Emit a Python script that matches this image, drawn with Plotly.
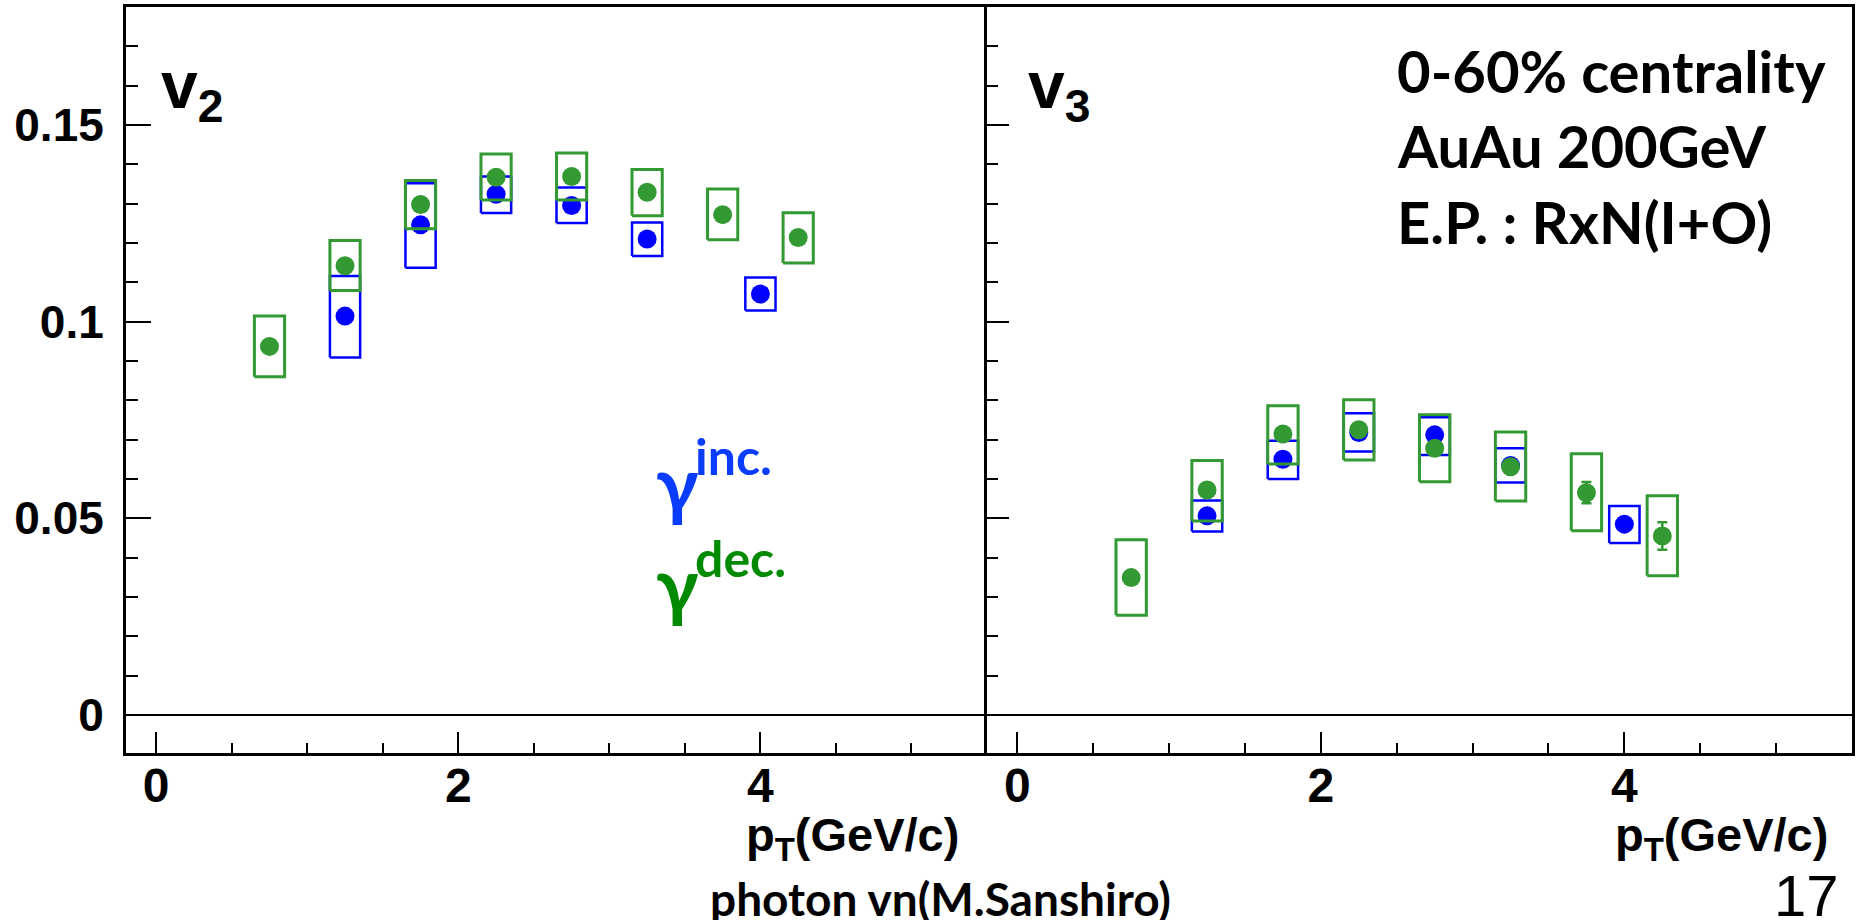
import plotly.graph_objects as go

# ---------------- data ----------------
pt_inc = [1.25, 1.75, 2.25, 2.75, 3.25, 4.0]
pt_dec = [0.75, 1.25, 1.75, 2.25, 2.75, 3.25, 3.75, 4.25]

v2_inc = [0.1014, 0.1246, 0.1324, 0.1295, 0.1210, 0.1070]
v2_inc_sys_lo = [0.0909, 0.1137, 0.1276, 0.1251, 0.1167, 0.1028]
v2_inc_sys_hi = [0.1116, 0.1352, 0.1369, 0.1341, 0.1252, 0.1112]

v2_dec = [0.0937, 0.1142, 0.1298, 0.1367, 0.1369, 0.1329, 0.1272, 0.1214]
v2_dec_sys_lo = [0.0860, 0.1079, 0.1236, 0.1309, 0.1309, 0.1269, 0.1208, 0.1149]
v2_dec_sys_hi = [0.1014, 0.1206, 0.1359, 0.1426, 0.1429, 0.1387, 0.1337, 0.1277]

v3_inc = [0.0506, 0.0650, 0.0718, 0.0712, 0.0634, 0.0485]
v3_inc_sys_lo = [0.0466, 0.0600, 0.0670, 0.0661, 0.0591, 0.0437]
v3_inc_sys_hi = [0.0545, 0.0697, 0.0767, 0.0757, 0.0678, 0.0531]

v3_dec = [0.0349, 0.0572, 0.0714, 0.0725, 0.0678, 0.0631, 0.0565, 0.0455]
v3_dec_stat = [0, 0, 0, 0, 0, 0, 0.0027, 0.0035]
v3_dec_sys_lo = [0.0253, 0.0493, 0.0638, 0.0648, 0.0593, 0.0544, 0.0468, 0.0354]
v3_dec_sys_hi = [0.0445, 0.0647, 0.0786, 0.0801, 0.0763, 0.0719, 0.0664, 0.0557]

x_ticks = [0, 2, 4]
y_ticks = [0, 0.05, 0.1, 0.15]
y_tick_text = ["0", "0.05", "0.1", "0.15"]

# ---------------- style ----------------
BLUE = "#0000ff"
GREEN = "#339933"
BOX_HW = 0.1
W, H = 1858, 920
ROOT_FONT = "Liberation Sans, Arial, sans-serif"
CAL_FONT = "Lato, Noto Sans, sans-serif"


def box_path(xs, lo, hi, hw):
    px, py = [], []
    for x, l, h in zip(xs, lo, hi):
        px += [x - hw, x + hw, x + hw, x - hw, x - hw, None]
        py += [l, l, h, h, l, None]
    return px, py


fig = go.Figure()


def add_panel(xa, ya, pts_inc, vinc, inc_lo, inc_hi, pts_dec, vdec, dec_lo, dec_hi, dec_err=None):
    bx, by = box_path(pts_inc, inc_lo, inc_hi, BOX_HW)
    fig.add_trace(go.Scatter(x=bx, y=by, mode="lines", line=dict(color=BLUE, width=2.5),
                             xaxis=xa, yaxis=ya, showlegend=False, hoverinfo="skip"))
    fig.add_trace(go.Scatter(x=pts_inc, y=vinc, mode="markers",
                             marker=dict(color=BLUE, size=19, line=dict(width=0)),
                             xaxis=xa, yaxis=ya, showlegend=False))
    gx, gy = box_path(pts_dec, dec_lo, dec_hi, BOX_HW)
    fig.add_trace(go.Scatter(x=gx, y=gy, mode="lines", line=dict(color=GREEN, width=3),
                             xaxis=xa, yaxis=ya, showlegend=False, hoverinfo="skip"))
    err = None
    if dec_err is not None:
        err = dict(type="data", array=dec_err, visible=True, color=GREEN, thickness=2.5, width=5)
    fig.add_trace(go.Scatter(x=pts_dec, y=vdec, mode="markers",
                             marker=dict(color=GREEN, size=19, line=dict(width=0)),
                             error_y=err,
                             xaxis=xa, yaxis=ya, showlegend=False))


add_panel("x", "y", pt_inc, v2_inc, v2_inc_sys_lo, v2_inc_sys_hi,
          pt_dec, v2_dec, v2_dec_sys_lo, v2_dec_sys_hi)
add_panel("x2", "y2", pt_inc, v3_inc, v3_inc_sys_lo, v3_inc_sys_hi,
          pt_dec, v3_dec, v3_dec_sys_lo, v3_dec_sys_hi, v3_dec_stat)

x0p, xmp, x1p = 126 / W, 987 / W, 1852 / W
ybot, ytop = 1 - 753 / H, 1 - 7 / H

xcommon = dict(range=[-0.2, 5.5], tickmode="linear", tick0=0, dtick=2,
               ticks="inside", ticklen=21, tickwidth=2, tickcolor="black",
               minor=dict(tick0=0, dtick=0.5, ticks="inside", ticklen=10, tickwidth=2,
                          tickcolor="black", showgrid=False),
               showline=True, mirror=True, linewidth=3, linecolor="black",
               showgrid=False, zeroline=False,
               tickfont=dict(family=ROOT_FONT, size=48, color="black", weight="bold"),
               ticklabelstandoff=-12)
ycommon = dict(range=[-0.0097, 0.18], tickmode="array", tickvals=y_ticks, ticktext=y_tick_text,
               ticks="inside", tickwidth=2, tickcolor="black",
               showline=True, linewidth=3, linecolor="black",
               showgrid=False, zeroline=True, zerolinecolor="black", zerolinewidth=2,
               tickfont=dict(family=ROOT_FONT, size=46, color="black", weight="bold"))
yminor = dict(tick0=0, dtick=0.01, ticks="inside", tickwidth=2, tickcolor="black", showgrid=False)

fig.update_layout(
    width=W, height=H, margin=dict(l=0, r=0, t=0, b=0),
    paper_bgcolor="white", plot_bgcolor="white", showlegend=False,
    xaxis=dict(domain=[x0p, xmp], anchor="y", **xcommon),
    xaxis2=dict(domain=[xmp, x1p], anchor="y2", **xcommon),
    yaxis=dict(domain=[ybot, ytop], anchor="x", ticklen=25, ticklabelstandoff=10, mirror=False,
               minor=dict(ticklen=12, **yminor), **ycommon),
    yaxis2=dict(domain=[ybot, ytop], anchor="x2", ticklen=22, showticklabels=False, mirror=True,
                minor=dict(ticklen=11, **yminor), **ycommon),
)


def px(x):
    return x / W


def py(y):
    return 1 - y / H


ann = []
# panel labels
ann.append(dict(text="v<sub>2</sub>", x=px(159), y=py(90), xanchor="left", yanchor="middle",
                font=dict(family=ROOT_FONT, size=66, color="black", weight="bold")))
ann.append(dict(text="v<sub>3</sub>", x=px(1026), y=py(90), xanchor="left", yanchor="middle",
                font=dict(family=ROOT_FONT, size=66, color="black", weight="bold")))
# info text
for txt, yc in [("0-60% centrality", 70), ("AuAu 200GeV", 145), ("E.P. : RxN(I+O)", 221)]:
    ann.append(dict(text=txt, x=px(1395), y=py(yc), xanchor="left", yanchor="middle",
                    font=dict(family=CAL_FONT, size=58, color="black", weight="bold")))
# gamma labels
ann.append(dict(text="γ", x=px(654), y=py(482), xanchor="left", yanchor="middle",
                font=dict(family=CAL_FONT, size=76, color="#0a3cff", weight="bold")))
ann.append(dict(text="inc.", x=px(693), y=py(456), xanchor="left", yanchor="middle",
                font=dict(family=CAL_FONT, size=50, color="#0a3cff", weight="bold")))
ann.append(dict(text="γ", x=px(654), y=py(583), xanchor="left", yanchor="middle",
                font=dict(family=CAL_FONT, size=76, color="#008a00", weight="bold")))
ann.append(dict(text="dec.", x=px(693), y=py(558), xanchor="left", yanchor="middle",
                font=dict(family=CAL_FONT, size=50, color="#008a00", weight="bold")))
# axis titles
ann.append(dict(text="p<sub>T</sub>(GeV/c)", x=px(961), y=py(838), xanchor="right", yanchor="middle",
                font=dict(family=ROOT_FONT, size=47, color="black", weight="bold")))
ann.append(dict(text="p<sub>T</sub>(GeV/c)", x=px(1830), y=py(838), xanchor="right", yanchor="middle",
                font=dict(family=ROOT_FONT, size=47, color="black", weight="bold")))
# footer
ann.append(dict(text="photon vn(M.Sanshiro)", x=px(708), y=py(898), xanchor="left", yanchor="middle",
                font=dict(family=CAL_FONT, size=46, color="black", weight="bold")))
ann.append(dict(text="17", x=px(1841), y=py(895), xanchor="right", yanchor="middle",
                font=dict(family=ROOT_FONT, size=58, color="black")))

for a in ann:
    a.update(xref="paper", yref="paper", showarrow=False)
fig.update_layout(annotations=ann)

fig.write_html("out.html", config={"displayModeBar": False},
               post_script="document.body.style.margin='0';document.body.style.overflow='hidden';")
